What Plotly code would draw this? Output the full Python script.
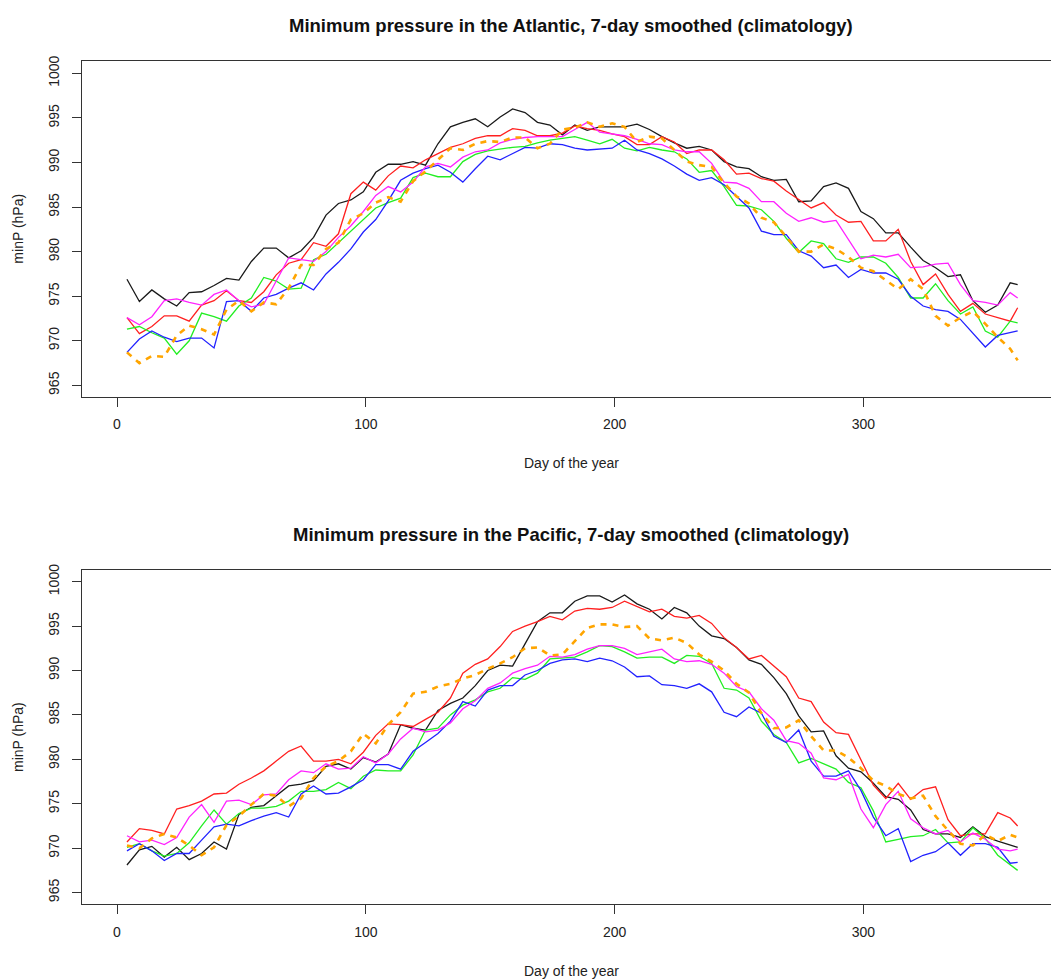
import plotly.graph_objects as go

DAYS = [4, 9, 14, 19, 24, 29, 34, 39, 44, 49, 54, 59, 64, 69, 74, 79, 84, 89,
        94, 99, 104, 109, 114, 119, 124, 129, 134, 139, 144, 149, 154, 159, 164, 169, 174, 179, 184, 189,
        194, 199, 204, 209, 214, 219, 224, 229, 234, 239, 244, 249, 254, 259, 264, 269, 274, 279, 284, 289,
        294, 299, 304, 309, 314, 319, 324, 329, 334, 339, 344, 349, 354, 359, 362]

X_TICKS = [0, 100, 200, 300]
Y_TICKS = [965, 970, 975, 980, 985, 990, 995, 1000]

# ---------------- Atlantic ----------------
atl_black = [976.9, 974.4, 975.7, 974.7, 973.9, 975.4, 975.5, 976.2, 977.0, 976.8, 978.9, 980.4, 980.4, 979.3, 980.1, 981.6, 984.1, 985.4,
             985.8, 986.7, 988.9, 989.8, 989.8, 990.1, 989.7, 992.1, 994.0, 994.5, 994.9, 994.0, 995.1, 996.0, 995.6, 994.5, 994.2, 993.1, 994.2, 993.6,
             994.0, 994.0, 994.0, 994.3, 993.7, 992.9, 992.2, 991.6, 991.8, 991.4, 990.1, 989.5, 989.3, 988.4, 988.0, 988.1, 985.6, 985.7, 987.3, 987.7,
             987.1, 984.5, 983.7, 982.1, 982.1, 980.5, 979.0, 978.2, 977.2, 977.4, 974.5, 973.2, 974.0, 976.5, 976.3]
atl_red = [972.6, 970.8, 971.6, 972.8, 972.8, 972.2, 974.0, 974.5, 975.6, 974.5, 974.3, 975.5, 977.4, 978.7, 979.1, 981.0, 980.6, 982.0,
           986.5, 987.8, 986.9, 988.5, 989.6, 989.4, 990.3, 991.0, 991.7, 992.1, 992.7, 993.0, 993.0, 993.8, 993.6, 993.0, 993.0, 993.3, 994.1, 993.8,
           993.6, 993.2, 992.9, 992.0, 992.0, 992.9, 992.3, 991.0, 991.4, 991.4, 990.3, 988.7, 988.8, 988.2, 987.9, 986.8, 985.9, 984.9, 985.5, 984.1,
           983.3, 983.4, 981.2, 981.2, 982.5, 978.9, 976.3, 977.5, 975.2, 973.3, 974.2, 973.0, 972.6, 972.2, 973.7]
atl_green = [971.3, 971.6, 970.9, 970.3, 968.5, 970.0, 973.1, 972.7, 972.2, 973.9, 974.8, 977.1, 976.7, 975.8, 975.9, 979.1, 979.7, 981.0,
             982.3, 983.5, 984.9, 985.5, 986.0, 988.3, 988.8, 988.4, 988.4, 990.1, 990.9, 991.3, 991.5, 991.7, 991.8, 992.2, 992.5, 992.7, 992.9, 992.5,
             992.1, 992.6, 991.6, 991.3, 991.7, 991.4, 991.2, 990.4, 988.9, 989.1, 987.3, 985.2, 985.1, 984.7, 983.4, 981.5, 979.9, 981.2, 980.9, 979.2,
             978.8, 979.4, 979.4, 978.7, 977.1, 974.8, 974.8, 976.4, 974.5, 973.0, 973.8, 971.1, 970.4, 972.2, 972.0]
atl_blue = [968.7, 970.2, 971.1, 970.4, 969.9, 970.3, 970.3, 969.2, 974.4, 974.5, 973.3, 974.8, 975.2, 975.9, 976.5, 975.7, 977.5, 978.8,
            980.3, 982.2, 983.6, 985.7, 988.0, 988.8, 989.3, 989.7, 988.9, 987.8, 989.3, 990.7, 990.3, 991.0, 991.7, 991.6, 992.1, 992.0, 991.6, 991.4,
            991.5, 991.6, 992.5, 991.4, 991.0, 990.4, 989.6, 988.7, 988.0, 988.3, 987.5, 986.2, 984.9, 982.3, 981.9, 981.9, 980.1, 979.5, 978.2, 978.5,
            977.1, 978.0, 977.6, 977.6, 976.9, 975.0, 973.9, 973.5, 973.3, 972.4, 970.9, 969.3, 970.6, 970.9, 971.1]
atl_magenta = [972.6, 971.8, 972.7, 974.5, 974.7, 974.3, 974.0, 975.2, 975.7, 974.5, 973.8, 974.1, 976.7, 979.3, 979.1, 978.9, 980.0, 981.6,
               982.9, 984.5, 986.3, 987.3, 986.7, 987.8, 989.5, 989.9, 989.5, 990.6, 991.2, 991.4, 992.2, 992.6, 992.8, 992.9, 992.9, 992.9, 993.7, 994.5,
               993.4, 993.2, 993.0, 992.6, 992.1, 992.0, 991.4, 991.2, 991.2, 989.9, 987.8, 987.7, 987.1, 985.6, 985.6, 984.3, 983.4, 983.8, 983.3, 983.5,
               981.3, 979.2, 979.6, 979.4, 979.7, 978.2, 978.3, 978.6, 978.7, 976.3, 974.5, 974.3, 974.0, 975.4, 974.8]
atl_orange = [968.7, 967.5, 968.3, 968.2, 970.6, 971.7, 971.3, 970.7, 973.5, 974.5, 973.3, 974.3, 974.1, 975.9, 978.5, 978.5, 980.3, 981.0,
              983.6, 984.3, 985.5, 986.1, 985.6, 987.9, 989.0, 990.3, 991.6, 991.4, 992.1, 992.4, 992.3, 992.8, 992.8, 991.6, 992.1, 993.7, 993.9, 994.5,
              994.0, 994.4, 994.0, 992.3, 992.9, 992.7, 991.4, 990.1, 989.7, 989.5, 987.7, 986.2, 985.4, 983.8, 983.3, 981.7, 980.0, 980.0, 980.8, 980.3,
              979.4, 978.2, 977.8, 976.8, 975.8, 976.9, 975.8, 972.8, 971.7, 972.6, 973.3, 971.9, 970.4, 969.1, 967.8]

# ---------------- Pacific ----------------
pac_black = [968.1, 969.8, 970.2, 969.0, 970.1, 968.7, 969.4, 970.7, 969.9, 973.8, 974.6, 974.8, 975.9, 977.0, 977.2, 977.6, 979.2, 979.5,
             978.9, 980.2, 979.7, 980.6, 983.9, 983.5, 983.3, 985.5, 986.3, 986.9, 988.3, 990.0, 990.6, 990.5, 993.0, 995.5, 996.5, 996.5, 997.8, 998.4,
             998.4, 997.7, 998.5, 997.5, 996.9, 995.8, 997.1, 996.5, 995.0, 993.9, 993.6, 992.6, 991.2, 990.7, 989.2, 987.4, 984.9, 983.1, 983.2, 980.4,
             979.0, 978.6, 977.3, 975.8, 975.5, 974.3, 972.1, 971.6, 971.6, 971.2, 972.4, 971.3, 970.8, 970.4, 970.1]
pac_red = [970.7, 972.2, 972.0, 971.6, 974.4, 974.8, 975.3, 976.1, 976.2, 977.2, 977.9, 978.7, 979.8, 980.9, 981.5, 979.8, 979.8, 980.0,
           979.5, 980.8, 982.7, 984.0, 983.9, 983.7, 984.5, 985.3, 986.9, 989.7, 990.7, 991.3, 992.7, 994.4, 995.0, 995.5, 996.1, 995.7, 996.7, 997.0,
           996.9, 997.1, 997.8, 997.2, 996.6, 996.9, 996.1, 995.9, 996.2, 995.3, 993.7, 992.6, 991.3, 991.7, 990.5, 989.3, 986.9, 986.5, 984.2, 983.0,
           982.8, 979.9, 977.1, 975.6, 977.3, 975.5, 976.6, 976.9, 973.2, 971.4, 971.6, 971.6, 974.0, 973.4, 972.5]
pac_green = [970.1, 970.5, 969.7, 969.1, 969.4, 970.6, 972.5, 974.3, 972.7, 973.9, 974.5, 974.5, 974.7, 975.3, 976.4, 976.4, 976.6, 977.4,
             976.7, 978.1, 978.8, 978.7, 978.7, 980.5, 983.3, 983.5, 985.0, 986.1, 986.7, 987.6, 988.0, 989.2, 989.0, 989.7, 991.3, 991.4, 991.5, 992.1,
             992.8, 992.7, 992.1, 991.4, 991.5, 991.5, 990.8, 991.7, 991.6, 990.8, 988.0, 987.8, 986.9, 984.3, 982.8, 981.9, 979.6, 980.1, 979.5, 978.9,
             977.4, 976.8, 974.2, 970.7, 971.0, 971.3, 971.4, 972.1, 970.6, 970.7, 972.3, 971.1, 969.2, 968.1, 967.5]
pac_blue = [969.7, 970.5, 969.7, 968.6, 969.4, 969.4, 970.9, 972.4, 972.7, 972.5, 973.1, 973.6, 974.0, 973.5, 976.1, 977.0, 976.1, 976.2,
            976.9, 977.7, 979.4, 979.4, 978.9, 980.9, 981.9, 982.9, 984.3, 986.5, 986.0, 987.8, 988.3, 988.3, 989.5, 990.0, 990.8, 991.2, 991.3, 991.0,
            991.4, 991.1, 990.4, 989.3, 989.4, 988.4, 988.3, 988.0, 988.5, 987.6, 985.3, 984.8, 985.9, 985.2, 982.6, 981.9, 983.3, 979.8, 978.1, 978.1,
            978.7, 976.5, 973.5, 971.4, 972.2, 968.5, 969.2, 969.6, 970.6, 969.2, 970.5, 970.5, 970.1, 968.3, 968.4]
pac_magenta = [971.4, 970.7, 970.9, 970.4, 971.2, 973.5, 974.9, 972.9, 975.3, 975.4, 974.9, 976.0, 976.1, 977.7, 978.7, 978.5, 979.5, 978.9,
               979.0, 980.3, 979.6, 980.6, 982.3, 983.5, 983.1, 983.3, 984.1, 985.7, 986.6, 988.0, 988.6, 989.7, 990.2, 990.6, 991.6, 991.5, 991.8, 992.4,
               992.8, 992.8, 992.5, 991.8, 992.1, 992.4, 991.3, 991.0, 991.1, 990.7, 989.7, 988.2, 987.6, 985.7, 984.4, 982.1, 981.8, 980.7, 977.9, 977.7,
               978.3, 974.4, 972.3, 974.9, 976.4, 973.3, 972.3, 971.6, 972.0, 970.7, 971.7, 971.0, 969.9, 969.7, 969.9]
pac_orange = [970.3, 970.0, 971.1, 971.6, 971.2, 970.3, 969.2, 970.1, 972.6, 973.6, 974.9, 976.1, 975.9, 974.7, 975.6, 977.9, 979.2, 979.8,
              980.9, 982.9, 981.8, 983.9, 985.3, 987.4, 987.6, 988.2, 988.5, 989.1, 989.5, 990.2, 990.8, 991.5, 992.5, 992.6, 991.7, 991.8, 993.3, 994.8,
              995.2, 995.2, 994.9, 995.0, 993.6, 993.4, 993.7, 993.1, 991.8, 991.0, 990.0, 988.5, 987.5, 985.2, 983.5, 983.6, 984.4, 982.6, 981.0, 981.0,
              980.2, 979.0, 977.6, 977.0, 976.1, 975.6, 975.9, 973.6, 972.0, 970.5, 970.3, 971.5, 970.8, 971.5, 971.2]

TITLES = ["Minimum pressure in the Atlantic, 7-day smoothed (climatology)",
          "Minimum pressure in the Pacific, 7-day smoothed (climatology)"]
XLABEL = "Day of the year"
YLABEL = "minP (hPa)"

FONT = "Liberation Sans, Arial, sans-serif"
W, H = 1051, 980

styles = [
    ("black", dict(color="#1a1a1a", width=1.3)),
    ("red", dict(color="#ff2020", width=1.3)),
    ("green", dict(color="#22ee22", width=1.3)),
    ("blue", dict(color="#2222ff", width=1.3)),
    ("magenta", dict(color="#ff22ff", width=1.3)),
    ("orange", dict(color="#ffa500", width=2.6, dash="6px,6px")),
]

panels = [
    ("x", "y", [atl_black, atl_red, atl_green, atl_blue, atl_magenta, atl_orange]),
    ("x2", "y2", [pac_black, pac_red, pac_green, pac_blue, pac_magenta, pac_orange]),
]

fig = go.Figure()
for xa, ya, series in panels:
    for (name, ln), vals in zip(styles, series):
        fig.add_trace(go.Scatter(x=DAYS, y=vals, mode="lines", name=name,
                                 line=ln, xaxis=xa, yaxis=ya,
                                 showlegend=False, hoverinfo="skip"))

x0 = 82 / W
frames = [(55, 393), (567, 904)]


def ydom(top, bot):
    return [1 - bot / H, 1 - top / H]


TICKFONT = dict(family=FONT, size=14, color="#222")

common_x = dict(range=[-14.07, 375.4], tickmode="array", tickvals=X_TICKS,
                ticks="outside", ticklen=9, tickwidth=1, tickcolor="#333",
                showline=True, linecolor="#333", linewidth=1, mirror=True,
                showgrid=False, zeroline=False,
                tickfont=TICKFONT, ticklabelstandoff=6, domain=[x0, 1])
common_y = dict(tickmode="array", tickvals=Y_TICKS,
                ticks="outside", ticklen=9, tickwidth=1, tickcolor="#333",
                showline=True, linecolor="#333", linewidth=1, mirror=False,
                showgrid=False, zeroline=False, tickangle=-90,
                tickfont=TICKFONT, ticklabelstandoff=7)

fig.update_layout(
    width=W, height=H,
    margin=dict(l=0, r=0, t=0, b=0),
    paper_bgcolor="white", plot_bgcolor="white",
    showlegend=False,
    xaxis=dict(common_x, anchor="y"),
    yaxis=dict(common_y, anchor="x", domain=ydom(*frames[0]), range=[963.74, 1001.42]),
    xaxis2=dict(common_x, anchor="y2"),
    yaxis2=dict(common_y, anchor="x2", domain=ydom(*frames[1]), range=[963.66, 1001.37]),
)

ann = []
cx = 571 / W
for (top, bot), title in zip(frames, TITLES):
    ann.append(dict(text="<b>%s</b>" % title, x=cx, y=1 - (top - 35) / H,
                    xref="paper", yref="paper", showarrow=False,
                    font=dict(family=FONT, size=18.5, color="#111"),
                    xanchor="center", yanchor="middle"))
    ann.append(dict(text=XLABEL, x=cx, y=1 - (bot + 67) / H,
                    xref="paper", yref="paper", showarrow=False,
                    font=dict(family=FONT, size=14, color="#222"),
                    xanchor="center", yanchor="middle"))
    ann.append(dict(text=YLABEL, x=18 / W, y=1 - ((top + bot) / 2) / H,
                    xref="paper", yref="paper", showarrow=False, textangle=-90,
                    font=dict(family=FONT, size=14, color="#222"),
                    xanchor="center", yanchor="middle"))
fig.update_layout(annotations=ann)

fig.write_html("out.html")
